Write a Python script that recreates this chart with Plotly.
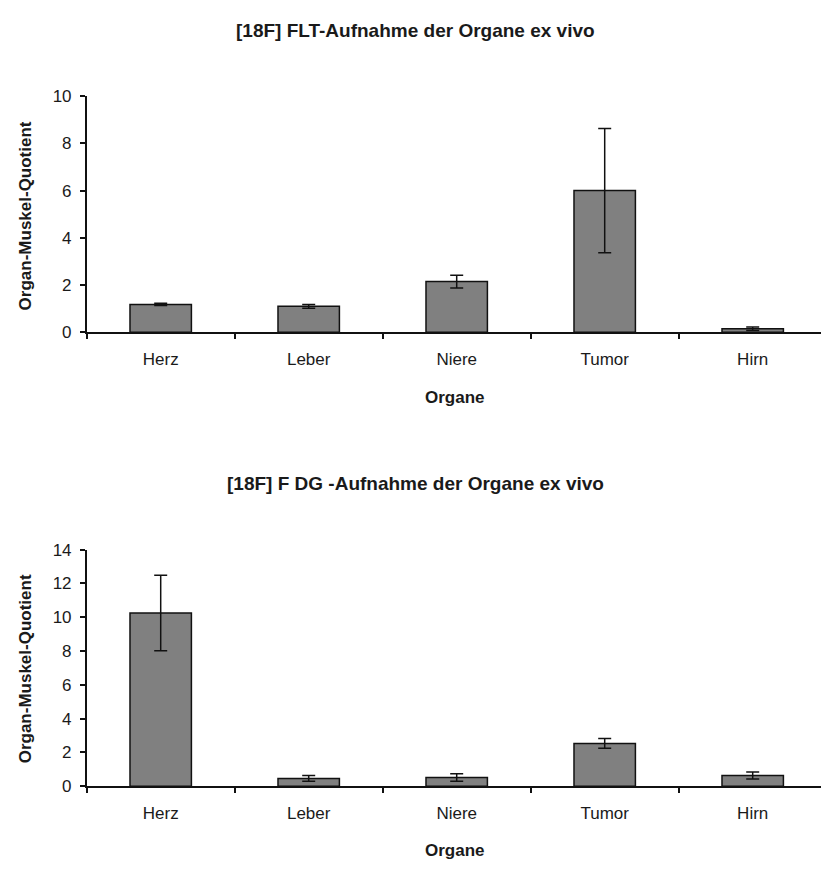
import plotly.graph_objects as go

# Organe (Kategorien)
organe = ["Herz", "Leber", "Niere", "Tumor", "Hirn"]

# [18F]FLT: Organ-Muskel-Quotient, Mittelwert und Standardabweichung
flt_mittel = [1.18, 1.10, 2.15, 6.00, 0.15]
flt_sd = [0.05, 0.08, 0.27, 2.63, 0.07]

# [18F]FDG: Organ-Muskel-Quotient, Mittelwert und Standardabweichung
fdg_mittel = [10.25, 0.46, 0.52, 2.53, 0.63]
fdg_sd = [2.23, 0.17, 0.22, 0.29, 0.21]

flt_yticks = [0, 2, 4, 6, 8, 10]
fdg_yticks = [0, 2, 4, 6, 8, 10, 12, 14]

W, H = 821, 873
FONT = "Liberation Sans, Arial, sans-serif"
TXT = "#1a1a1a"

fig = go.Figure()


def add_bars(means, sds, xa, ya):
    fig.add_trace(go.Bar(
        x=organe, y=means, xaxis=xa, yaxis=ya,
        width=0.415,
        marker=dict(color="#808080", line=dict(color="#111111", width=1.5)),
        error_y=dict(type="data", array=sds, visible=True,
                     color="#111111", thickness=1.5, width=6.5),
        showlegend=False, hoverinfo="x+y",
    ))


add_bars(flt_mittel, flt_sd, "x", "y")
add_bars(fdg_mittel, fdg_sd, "x2", "y2")


def px_x(p):
    return p / W


def px_y(p):
    return 1 - p / H


x_dom = [px_x(86.7), 1.0]
xr = [-0.5, 4.5 - (826.7 - 821) / 148.0]

common_x = dict(
    showline=True, linecolor="#111111", linewidth=1.5,
    ticks="outside", ticklen=5, tickwidth=1.5, tickcolor="#111111",
    tickson="boundaries", ticklabelstandoff=11,
    tickfont=dict(family=FONT, size=17, color=TXT),
    showgrid=False, zeroline=False, range=xr, domain=x_dom,
    fixedrange=True,
)
common_y = dict(
    showline=True, linecolor="#111111", linewidth=1.5,
    ticks="outside", ticklen=5, tickwidth=1.5, tickcolor="#111111",
    ticklabelstandoff=5,
    tickfont=dict(family=FONT, size=17, color=TXT),
    showgrid=False, zeroline=False, fixedrange=True,
)

fig.update_layout(
    width=W, height=H,
    margin=dict(l=0, r=0, t=0, b=0),
    paper_bgcolor="white", plot_bgcolor="white",
    xaxis=dict(common_x, anchor="y"),
    yaxis=dict(common_y, anchor="x", range=[0, 10], tickvals=flt_yticks,
               domain=[px_y(330.5), px_y(89)]),
    xaxis2=dict(common_x, anchor="y2"),
    yaxis2=dict(common_y, anchor="x2", range=[0, 14], tickvals=fdg_yticks,
                domain=[px_y(794.5), px_y(552.7)]),
)

title_font = dict(family=FONT, size=19, color=TXT, weight="bold")
label_font = dict(family=FONT, size=17, color=TXT, weight="bold")

notes = [
    ("[18F] FLT-Aufnahme der Organe ex vivo", 416, 22, 0, title_font),
    ("[18F] F DG -Aufnahme der Organe ex vivo", 416, 485, 0, title_font),
    ("Organe", 455, 397, 0, label_font),
    ("Organe", 455, 860, 0, label_font),
    ("Organ-Muskel-Quotient", 25, 212, -90, label_font),
    ("Organ-Muskel-Quotient", 25, 675, -90, label_font),
]
for text, x, y, ang, f in notes:
    fig.add_annotation(
        text=text, x=px_x(x), y=px_y(y), xref="paper", yref="paper",
        xanchor="center", yanchor="middle", showarrow=False,
        textangle=ang, font=f,
    )

fig.write_html("out.html", config={"displayModeBar": False})
